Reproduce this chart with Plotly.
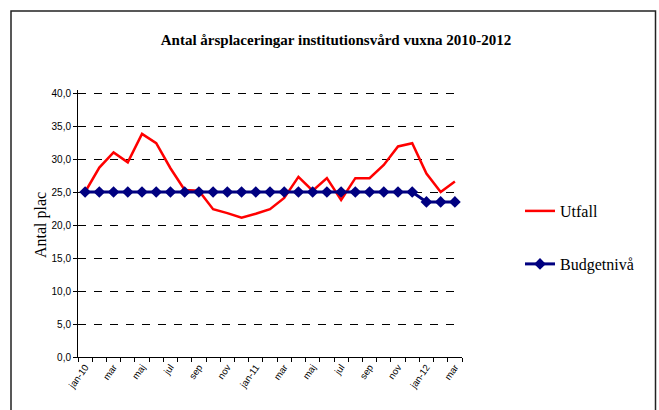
import plotly.graph_objects as go

months = ["jan-10","feb","mar","apr","maj","jun","jul","aug","sep","okt","nov","dec",
          "jan-11","feb","mar","apr","maj","jun","jul","aug","sep","okt","nov","dec",
          "jan-12","feb","mar"]
utfall = [25.0, 28.7, 31.0, 29.5, 33.8, 32.4, 28.6, 25.3, 25.2, 22.4, 21.8, 21.1, 21.7, 22.4,
          24.1, 27.3, 25.2, 27.1, 23.8, 27.1, 27.1, 29.1, 31.9, 32.4, 27.8, 25.0, 26.6]
budget = [25.0]*24 + [23.5, 23.5, 23.5]
tick_labels = ["jan-10","mar","maj","jul","sep","nov","jan-11","mar","maj","jul","sep","nov","jan-12","mar"]
y_ticks = [0, 5, 10, 15, 20, 25, 30, 35, 40]
y_tick_text = ["0,0","5,0","10,0","15,0","20,0","25,0","30,0","35,0","40,0"]

n = len(months)
xs = list(range(n))

fig = go.Figure()
fig.add_trace(go.Scatter(x=xs, y=utfall, name="Utfall", mode="lines",
                         line=dict(color="#FF0000", width=2.5), legend="legend"))
fig.add_trace(go.Scatter(x=xs, y=budget, name="Budgetnivå", mode="lines+markers",
                         line=dict(color="#000080", width=3),
                         marker=dict(symbol="diamond", size=9, color="#000080"),
                         legend="legend2"))

W, H = 659, 410
L, R, T, B = 78, 659 - 462, 90, 410 - 357
pw, ph = W - L - R, H - T - B
ymax = 267 / 6.6  # keeps 0-40 spanning the same pixels, leaves room for the 40,0 gridline

def px_x(p):
    return (p - L) / pw

def px_y(p):
    return (H - B - p) / ph

fig.update_layout(
    width=W, height=H,
    margin=dict(l=L, r=R, t=T, b=B, autoexpand=False),
    paper_bgcolor="white", plot_bgcolor="white",
    showlegend=True,
    title=dict(text="<b>Antal årsplaceringar institutionsvård vuxna 2010-2012</b>",
               x=0.51, xanchor="center", y=1 - 40 / H, yanchor="middle", yref="container",
               font=dict(family="Liberation Serif", size=15, color="black")),
    xaxis=dict(range=[-0.5, n - 0.5], tickvals=[xs[i] for i in range(0, n, 2)],
               ticktext=tick_labels, tickangle=-55, ticks="",
               tickfont=dict(family="Liberation Sans", size=9.5, color="black"),
               showgrid=False, zeroline=False, showline=True, linecolor="black", linewidth=1),
    xaxis2=dict(range=[-0.5, n - 0.5], overlaying="x", anchor="y", side="bottom",
                tickvals=[i - 0.5 for i in range(n + 1)], ticks="outside", ticklen=4,
                tickcolor="black", showticklabels=False, showgrid=False, zeroline=False),
    yaxis=dict(range=[0, ymax], tickvals=y_ticks, ticktext=y_tick_text, ticks="outside",
               ticklen=4, tickcolor="black",
               tickfont=dict(family="Liberation Sans", size=10, color="black"),
               showgrid=True, gridcolor="black", gridwidth=1, griddash="8px,8px",
               zeroline=False, showline=True, linecolor="black", linewidth=1),
    legend=dict(x=520 / W, y=1 - 211 / H, xref="container", yref="container",
                xanchor="left", yanchor="middle",
                font=dict(family="Liberation Serif", size=16, color="black"),
                bgcolor="rgba(0,0,0,0)", itemwidth=30),
    legend2=dict(x=520 / W, y=1 - 264 / H, xref="container", yref="container",
                 xanchor="left", yanchor="middle",
                 font=dict(family="Liberation Serif", size=16, color="black"),
                 bgcolor="rgba(0,0,0,0)", itemwidth=30),
    annotations=[dict(text="Antal plac", x=px_x(41), y=px_y(225), xref="paper", yref="paper",
                      textangle=-90, showarrow=False, xanchor="center", yanchor="middle",
                      font=dict(family="Liberation Serif", size=16, color="black"))],
    shapes=[dict(type="rect", xref="paper", yref="paper",
                 x0=px_x(11), x1=px_x(655.5), y0=px_y(11), y1=px_y(440),
                 line=dict(color="#222222", width=1.5), layer="above")],
)
# invisible trace so that the boundary-tick axis is drawn
fig.add_trace(go.Scatter(x=[0], y=[0], xaxis="x2", mode="markers", opacity=0,
                         showlegend=False, hoverinfo="skip"))

fig.write_html("out.html", config={"displayModeBar": False},
               post_script="document.body.style.margin='0';document.body.style.overflow='hidden';")
